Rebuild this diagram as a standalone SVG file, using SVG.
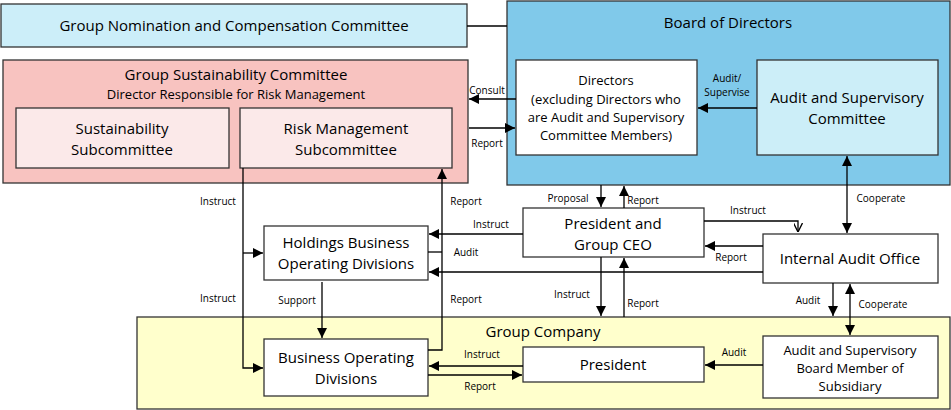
<svg xmlns="http://www.w3.org/2000/svg" width="951" height="410" viewBox="0 0 951 410">
<style>
text{font-family:"Open Sans","Liberation Sans",sans-serif;fill:#000;text-anchor:middle}
.b{stroke:#333;stroke-width:1.3}
.l{font-size:10px}
.m{font-size:15px}
.c line,.c polyline{stroke:#000;stroke-width:1.3;fill:none}
</style>
<defs>
<marker id="a" viewBox="0 0 10 10" refX="10" refY="5" markerWidth="10" markerHeight="10" markerUnits="userSpaceOnUse" orient="auto-start-reverse"><path d="M0,0 L10,5 L0,10 z" fill="#000"/></marker>
<marker id="o" viewBox="0 0 10 10" refX="10" refY="5" markerWidth="9" markerHeight="9" markerUnits="userSpaceOnUse" orient="auto"><path d="M0,0 L10,5 L0,10" fill="none" stroke="#000" stroke-width="1.5"/></marker>
</defs>
<g id="nomination"><rect class="b" x="1" y="4" width="466" height="43" fill="#CCEEF9"/><text class="m" x="234" y="31">Group Nomination and Compensation Committee</text></g>
<g id="board"><rect class="b" x="507" y="1" width="443" height="184" fill="#80C9EA"/><text class="m" x="728" y="28">Board of Directors</text></g>
<g id="sustainability"><rect class="b" x="3" y="60" width="465" height="123" fill="#F8C3C0"/><text class="m" x="236" y="80">Group Sustainability Committee</text><text x="236" y="99" style="font-size:13px">Director Responsible for Risk Management</text></g>
<g id="groupco"><rect class="b" x="137" y="317" width="813" height="92" fill="#FFFFCC"/><text class="m" x="543" y="337">Group Company</text></g>
<g id="susub"><rect class="b" x="16" y="108" width="213" height="60" fill="#FBE9E9"/><text class="m" x="122" y="134">Sustainability</text><text class="m" x="122" y="155">Subcommittee</text></g>
<g id="risksub"><rect class="b" x="240" y="108" width="212" height="60" fill="#FBE9E9"/><text class="m" x="346" y="134">Risk Management</text><text class="m" x="346" y="155">Subcommittee</text></g>
<g id="directors"><rect class="b" x="516" y="60" width="181" height="95" fill="#fff"/><text x="606" y="85" style="font-size:13px">Directors</text><text x="606" y="104" style="font-size:13px">(excluding Directors who</text><text x="606" y="122" style="font-size:13px">are Audit and Supervisory</text><text x="606" y="140" style="font-size:13px">Committee Members)</text></g>
<g id="auditcom"><rect class="b" x="757" y="60" width="181" height="95" fill="#CCEEF8"/><text class="m" x="847" y="103">Audit and Supervisory</text><text class="m" x="847" y="124">Committee</text></g>
<g id="ceo"><rect class="b" x="523" y="208" width="181" height="49" fill="#fff"/><text class="m" x="613" y="229">President and</text><text class="m" x="613" y="250">Group CEO</text></g>
<g id="iao"><rect class="b" x="763" y="234" width="175" height="49" fill="#fff"/><text class="m" x="850" y="264">Internal Audit Office</text></g>
<g id="holdings"><rect class="b" x="264" y="226" width="164" height="54" fill="#fff"/><text class="m" x="346" y="248">Holdings Business</text><text class="m" x="346" y="269">Operating Divisions</text></g>
<g id="bod"><rect class="b" x="264" y="339" width="164" height="57" fill="#fff"/><text class="m" x="346" y="363">Business Operating</text><text class="m" x="346" y="384">Divisions</text></g>
<g id="president"><rect class="b" x="523" y="347" width="181" height="35" fill="#fff"/><text class="m" x="613" y="370">President</text></g>
<g id="subsidiary"><rect class="b" x="763" y="336" width="175" height="62" fill="#fff"/><text x="850" y="355" style="font-size:13px">Audit and Supervisory</text><text x="850" y="373" style="font-size:13px">Board Member of</text><text x="850" y="391" style="font-size:13px">Subsidiary</text></g>
<g class="c" id="connectors">
<line x1="467" y1="26" x2="507" y2="26"/>
<line x1="757" y1="108" x2="698" y2="108" marker-end="url(#a)"/>
<line x1="516" y1="99" x2="469" y2="99" marker-end="url(#a)"/>
<line x1="469" y1="128" x2="515" y2="128" marker-end="url(#a)"/>
<line x1="601" y1="185" x2="601" y2="207" marker-end="url(#a)"/>
<line x1="624" y1="208" x2="624" y2="186" marker-end="url(#a)"/>
<line x1="601" y1="257" x2="601" y2="316" marker-end="url(#a)"/>
<line x1="624" y1="317" x2="624" y2="258" marker-end="url(#a)"/>
<polyline points="704,221 798,221 798,232" marker-end="url(#o)"/>
<line x1="763" y1="246" x2="705" y2="246" marker-end="url(#a)"/>
<line x1="763" y1="272" x2="429" y2="272" marker-end="url(#a)"/>
<line x1="523" y1="234" x2="429" y2="234" marker-end="url(#a)"/>
<line x1="847" y1="156" x2="847" y2="233" marker-start="url(#a)" marker-end="url(#a)"/>
<line x1="833" y1="283" x2="833" y2="316" marker-end="url(#a)"/>
<line x1="850" y1="284" x2="850" y2="335" marker-start="url(#a)" marker-end="url(#a)"/>
<line x1="763" y1="365" x2="705" y2="365" marker-end="url(#a)"/>
<line x1="523" y1="366" x2="429" y2="366" marker-end="url(#a)" transform="translate(0 0)"/>
<line x1="428" y1="375" x2="522" y2="375" marker-end="url(#a)"/>
<polyline points="428,350 442,350 442,169" marker-end="url(#a)"/>
<line x1="428" y1="252" x2="442" y2="252"/>
<line x1="322" y1="282" x2="322" y2="338" marker-end="url(#a)"/>
<polyline points="243,168 243,368 263,368" marker-end="url(#a)"/>
<line x1="243" y1="253" x2="263" y2="253" marker-end="url(#a)"/>
</g>
<g id="labels" class="l">
<text x="487" y="94">Consult</text><text x="487" y="147">Report</text>
<text x="727" y="82">Audit/</text><text x="727" y="96">Supervise</text>
<text x="568" y="202">Proposal</text><text x="643" y="204">Report</text>
<text x="491" y="228">Instruct</text><text x="466" y="256">Audit</text>
<text x="748" y="214">Instruct</text><text x="731" y="261">Report</text>
<text x="881" y="202">Cooperate</text>
<text x="218" y="205">Instruct</text><text x="218" y="302">Instruct</text>
<text x="466" y="205">Report</text><text x="466" y="303">Report</text>
<text x="297" y="304">Support</text>
<text x="572" y="298">Instruct</text><text x="643" y="307">Report</text>
<text x="808" y="304">Audit</text><text x="883" y="308">Cooperate</text>
<text x="482" y="358">Instruct</text><text x="480" y="390">Report</text>
<text x="734" y="356">Audit</text>
</g>
</svg>
